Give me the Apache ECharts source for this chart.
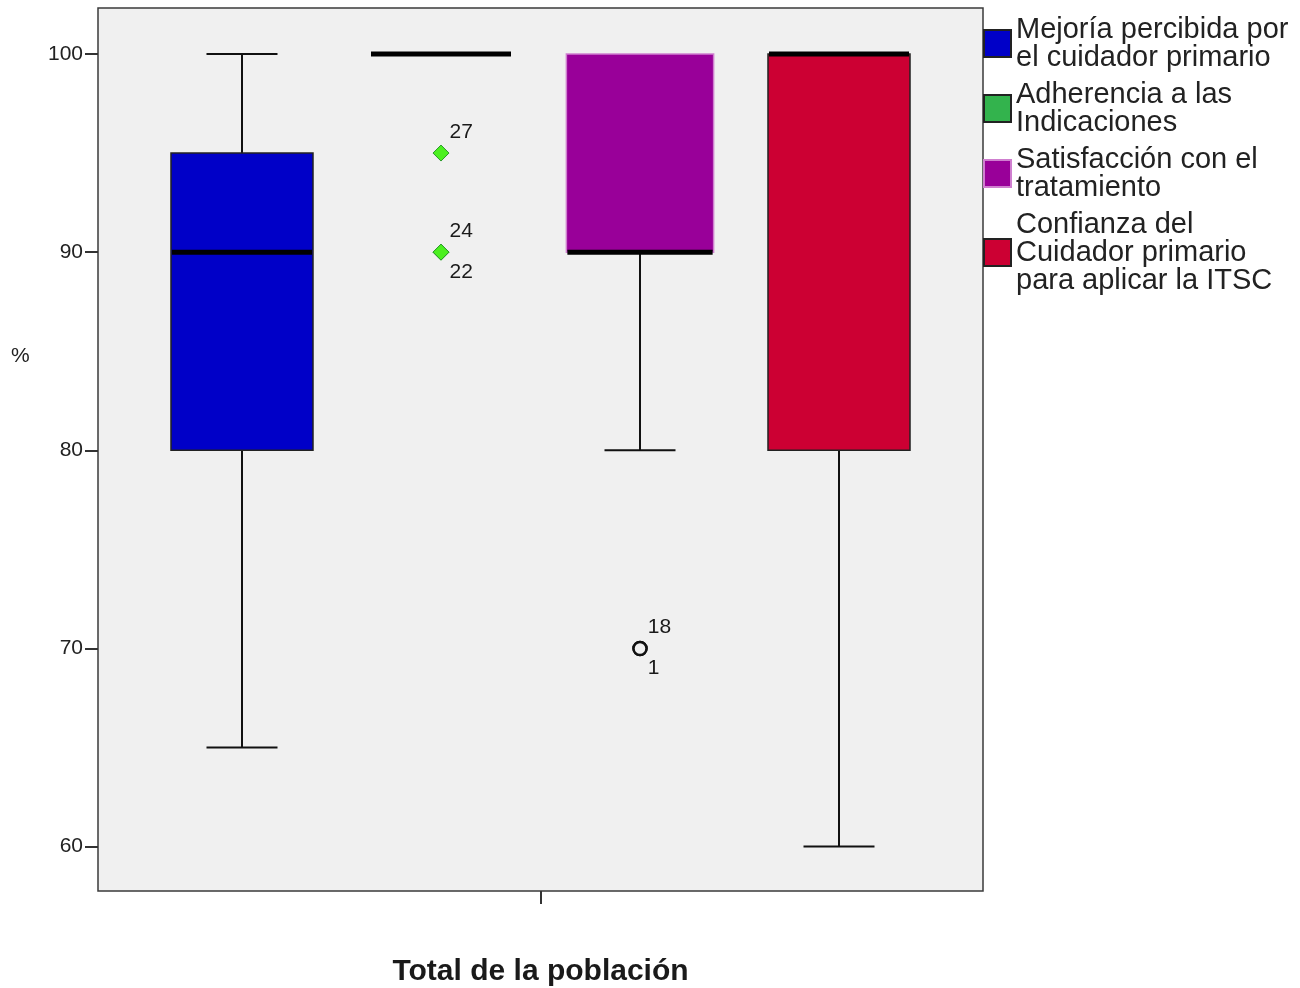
<!DOCTYPE html>
<html><head><meta charset="utf-8">
<script src="https://cdn.jsdelivr.net/npm/echarts@6/dist/echarts.min.js"></script>
<style>html,body{margin:0;padding:0;background:#fff}#c{width:1300px;height:988px}</style>
</head><body><div id="c"></div>
<script>
// ---- data ----
const seriesNames = [
  'Mejoría percibida por\nel cuidador primario',
  'Adherencia a las\nIndicaciones',
  'Satisfacción con el\ntratamiento',
  'Confianza del\nCuidador primario\npara aplicar la ITSC'
];
const minValues    = [65, 100, 80, 60];
const q1Values     = [80, 100, 90, 80];
const medianValues = [90, 100, 90, 100];
const q3Values     = [95, 100, 100, 100];
const maxValues    = [100, 100, 100, 100];
// outliers: series index, value, case id
const outlierSeries = [1, 1, 1, 2, 2];
const outlierValues = [95, 90, 90, 70, 70];
const outlierCases  = ['27', '24', '22', '18', '1'];
const yTicks = [60, 70, 80, 90, 100];
const xAxisTitle = 'Total de la población';
const yAxisTitle = '%';

// ---- styles ----
const FONT = '"Liberation Sans", Arial, sans-serif';
const fillColors   = ['#0000c8', '#33b34d', '#990099', '#cc0033'];
const borderColors = ['#222222', '#222222', '#cf7fcf', '#222222'];
const boxWidths = [0.7136, 0.7136, 0.74, 0.7136];   // in position units (1 unit = one group)
const X_MIN = 0.2764, X_MAX = 4.7236;
const Y_MIN = 57.76, Y_MAX = 102.32;
const outlierStyles = {
  1: {symbol: 'diamond', symbolSize: 16, itemStyle: {color: '#4cf020', borderColor: '#2a9a2a', borderWidth: 1, opacity: 1}},
  2: {symbol: 'circle', symbolSize: 13, itemStyle: {color: '#f0f0f0', borderColor: '#111', borderWidth: 2.5, opacity: 1}}
};

function renderBox(params, api) {
  const x = api.value(0);
  const vMin = api.value(1), q1 = api.value(2), med = api.value(3), q3 = api.value(4), vMax = api.value(5);
  const cx = api.coord([x, med])[0];
  const yOf = v => api.coord([x, v])[1];
  const si = params.seriesIndex;
  const halfW = api.size([boxWidths[si], 0])[0] / 2;
  const capHalf = api.size([boxWidths[0], 0])[0] / 4;
  const ws = {stroke: '#111', lineWidth: 2};
  const children = [];
  if (vMax > q3) {
    children.push({type: 'line', shape: {x1: cx, y1: yOf(q3), x2: cx, y2: yOf(vMax)}, style: ws});
    children.push({type: 'line', shape: {x1: cx - capHalf, y1: yOf(vMax), x2: cx + capHalf, y2: yOf(vMax)}, style: ws});
  }
  if (vMin < q1) {
    children.push({type: 'line', shape: {x1: cx, y1: yOf(q1), x2: cx, y2: yOf(vMin)}, style: ws});
    children.push({type: 'line', shape: {x1: cx - capHalf, y1: yOf(vMin), x2: cx + capHalf, y2: yOf(vMin)}, style: ws});
  }
  if (q3 > q1) {
    children.push({type: 'rect', shape: {x: cx - halfW, y: yOf(q3), width: 2 * halfW, height: yOf(q1) - yOf(q3)},
      style: {fill: fillColors[si], stroke: borderColors[si], lineWidth: 1.5}});
  }
  children.push({type: 'line', shape: {x1: cx - halfW + 1, y1: yOf(med), x2: cx + halfW - 1, y2: yOf(med)},
    style: {stroke: '#000', lineWidth: 5}});
  return {type: 'group', children};
}

const boxSeries = seriesNames.map((name, i) => ({
  type: 'custom',
  name: name,
  renderItem: renderBox,
  encode: {x: 0, y: [1, 2, 3, 4, 5]},
  itemStyle: {color: fillColors[i], borderColor: borderColors[i], borderWidth: 1.5},
  data: [[i + 1, minValues[i], q1Values[i], medianValues[i], q3Values[i], maxValues[i]]],
  z: 2
}));

// outlier points; the first case at a value is labelled above, the next below
const seen = {};
const outlierData = outlierValues.map((v, k) => {
  const s = outlierSeries[k];
  const key = s + '_' + v;
  const order = seen[key] || 0;
  seen[key] = order + 1;
  const st = outlierStyles[s];
  return {
    value: [s + 1, v],
    symbol: st.symbol,
    symbolSize: st.symbolSize,
    itemStyle: st.itemStyle,
    label: {show: true, formatter: outlierCases[k], position: 'right', distance: 0,
      color: '#1a1a1a', fontSize: 21, fontFamily: FONT,
      offset: [0, order === 0 ? -21 : 20]}
  };
});

const chart = echarts.init(document.getElementById('c'));
chart.setOption({
  animation: false,
  backgroundColor: '#ffffff',
  textStyle: {fontFamily: FONT},
  grid: {left: 98, top: 8, right: 317, bottom: 97, show: true, backgroundColor: '#f0f0f0',
    borderColor: '#3a3a3a', borderWidth: 1.5, containLabel: false, outerBoundsMode: 'none'},
  xAxis: {
    type: 'value', min: X_MIN, max: X_MAX,
    axisLine: {show: false},
    axisTick: {show: true, length: 13, customValues: [2.5], lineStyle: {color: '#333', width: 2}},
    axisLabel: {show: false},
    splitLine: {show: false},
    name: xAxisTitle, nameLocation: 'middle', nameGap: 66,
    nameTextStyle: {fontFamily: FONT, fontSize: 30, fontWeight: 'bold', color: '#1a1a1a'}
  },
  yAxis: {
    type: 'value', min: Y_MIN, max: Y_MAX,
    axisLine: {show: false},
    axisTick: {show: true, length: 13, customValues: yTicks, lineStyle: {color: '#333', width: 2}},
    axisLabel: {show: true, customValues: yTicks, fontFamily: FONT, fontSize: 21, color: '#222', margin: 15},
    splitLine: {show: false}
  },
  legend: {
    orient: 'vertical', left: 983, top: 15, itemGap: 8, padding: 0,
    itemWidth: 27, itemHeight: 27, icon: 'rect',
    data: seriesNames,
    textStyle: {fontFamily: FONT, fontSize: 29, lineHeight: 28, color: '#222'}
  },
  graphic: [{type: 'text', left: 11, top: 346, style: {text: yAxisTitle, font: '21px ' + FONT, fill: '#222'}}],
  series: boxSeries.concat([{
    type: 'scatter', name: 'atípicos', data: outlierData, z: 5,
    itemStyle: {opacity: 1},
    label: {fontFamily: FONT, fontSize: 21, color: '#1a1a1a'}
  }])
});
</script></body></html>
